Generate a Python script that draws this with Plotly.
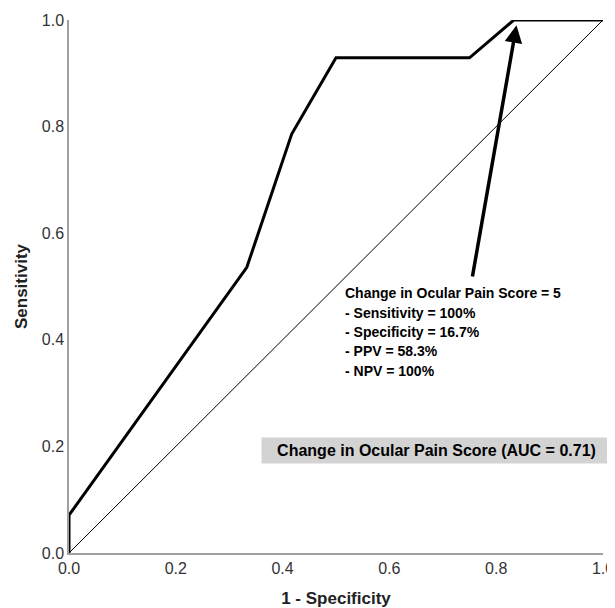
import plotly.graph_objects as go

# ROC curve data
fpr = [0.0, 0.0, 0.333, 0.417, 0.5, 0.75, 0.833, 1.0]
tpr = [0.0, 0.071, 0.536, 0.786, 0.929, 0.929, 1.0, 1.0]
ref_x = [0.0, 1.0]
ref_y = [0.0, 1.0]
tick_vals = [0.0, 0.2, 0.4, 0.6, 0.8, 1.0]
tick_text = ["0.0", "0.2", "0.4", "0.6", "0.8", "1.0"]
auc_label = "Change in Ocular Pain Score (AUC = 0.71)"
note_lines = [
    "Change in Ocular Pain Score = 5",
    "- Sensitivity = 100%",
    "- Specificity = 16.7%",
    "- PPV = 58.3%",
    "- NPV = 100%",
]
arrow_tip = (0.838, 0.99)
arrow_tail = (0.755, 0.516)

FAM = "Liberation Sans, Arial, sans-serif"

fig = go.Figure()
fig.add_trace(go.Scatter(x=ref_x, y=ref_y, mode="lines",
                         line=dict(color="black", width=1), hoverinfo="skip"))
fig.add_trace(go.Scatter(x=fpr, y=tpr, mode="lines",
                         line=dict(color="black", width=3)))

fig.add_annotation(x=arrow_tip[0], y=arrow_tip[1], ax=arrow_tail[0], ay=arrow_tail[1],
                   xref="x", yref="y", axref="x", ayref="y",
                   showarrow=True, arrowhead=2, arrowsize=1.0, arrowwidth=3.5,
                   arrowcolor="black", text="")

# note lines, one annotation per line for the reference's line spacing
note_top = 0.487
note_step = 0.0362
for i, line in enumerate(note_lines):
    fig.add_annotation(x=0.514, y=note_top - i * note_step, xref="x", yref="y",
                       text="<b>%s</b>" % line, showarrow=False,
                       xanchor="left", yanchor="middle", align="left",
                       font=dict(size=14, color="black", family=FAM))

fig.add_annotation(x=0.6876, y=0.192, xref="x", yref="y",
                   text="<b>%s</b>" % auc_label, showarrow=False,
                   bgcolor="#d3d3d3", width=345, height=21, borderpad=2,
                   font=dict(size=16, color="black", family=FAM))

axis_common = dict(range=[0, 1], tickvals=tick_vals, ticktext=tick_text,
                   showgrid=False, zeroline=False, showline=True,
                   linecolor="#a0a0a0", linewidth=1.5, ticks="",
                   automargin=False,
                   tickfont=dict(size=16, color="#333333", family=FAM))

# The page body adds an 8px margin, so the figure is sized to fit the window.
fig.update_layout(
    width=607, height=600,
    margin=dict(l=61, r=12, t=12, b=55),
    plot_bgcolor="white", paper_bgcolor="white",
    showlegend=False,
    xaxis=dict(**axis_common,
               title=dict(text="<b>1 - Specificity</b>", standoff=16,
                          font=dict(size=17, color="#222222", family=FAM))),
    yaxis=dict(**axis_common,
               title=dict(text="<b>Sensitivity</b>", standoff=10,
                          font=dict(size=17, color="#222222", family=FAM))),
)

fig.write_html("out.html")
